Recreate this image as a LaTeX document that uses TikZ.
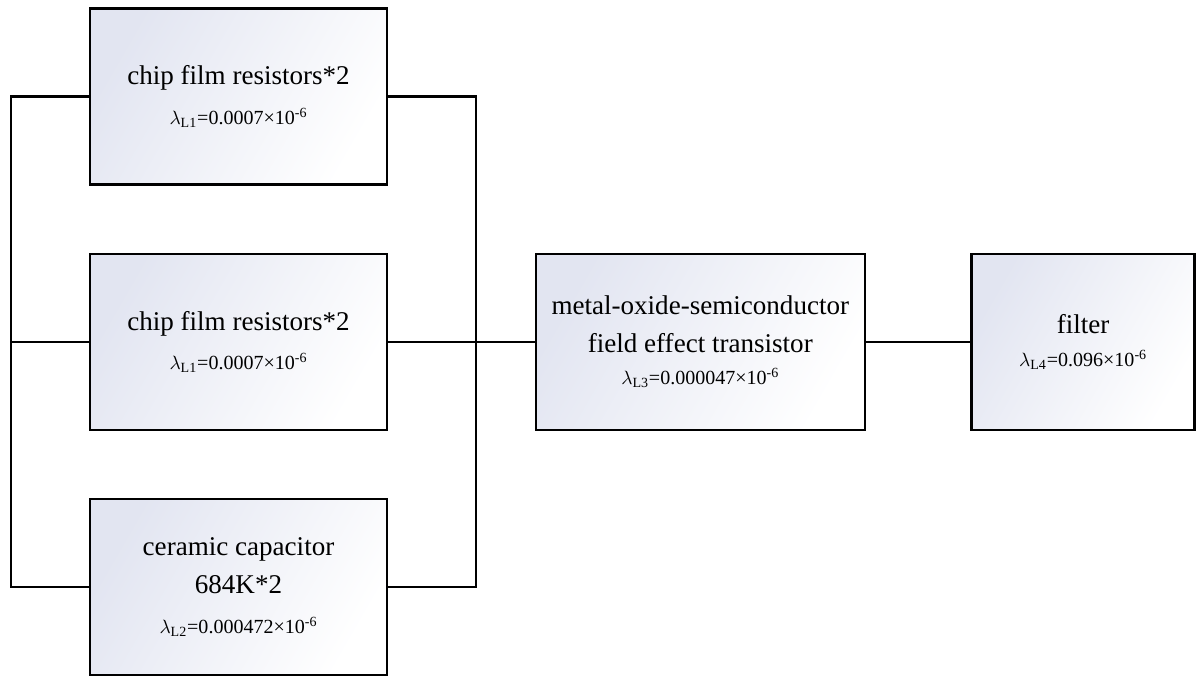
\documentclass[tikz,border=0pt]{standalone}
\usepackage{fontspec}
\setmainfont{Liberation Serif}
\usepackage{tikz}
\usetikzlibrary{calc, positioning}
\definecolor{boxtint}{RGB}{226,229,241}
\tikzset{
  block/.style={
    rectangle, draw=black, line width=1.3pt,
    minimum width=5.94cm, minimum height=3.52cm,
    text centered, align=center,
    left color=boxtint, right color=white, shading angle=60,
    font=\fontsize{15.4}{21.5}\selectfont
  },
  wire/.style={
    line width=1.3pt, color=black
  }
}
\newcommand{\lamrate}[2]{{\fontsize{11.4}{14}\selectfont$\lambda$\textsubscript{#1}=#2×10\textsuperscript{-6}}}

\begin{document}
\begin{tikzpicture}[
  node distance=1.34cm
]
\useasboundingbox (0,0) rectangle (23.94,-13.52);
\node[block] (res1) at (4.77,-1.93) {chip film resistors*2\\[1pt] \lamrate{L1}{0.0007}};
\node[block, below=of res1] (res2) {chip film resistors*2\\[1pt] \lamrate{L1}{0.0007}};
\node[block, below=of res2] (cap) {ceramic capacitor\\ 684K*2\\[1pt] \lamrate{L2}{0.000472}};
\node[block, minimum width=6.58cm, right=2.93cm of res2] (mos) {metal-oxide-semiconductor\\ field effect transistor\\[-3pt] \lamrate{L3}{0.000047}};
\node[block, minimum width=4.46cm, right=2.09cm of mos] (filt) {filter\\[-3pt] \lamrate{L4}{0.096}};
% parallel branch buses
\coordinate (lbus) at ($(res1.west)+(-1.56,0)$);
\coordinate (rbus) at ($(res1.east)+(1.76,0)$);
\draw[wire] (res1.west) -- (lbus) |- (cap.west);
\draw[wire] (res2.west) -- (res2.west -| lbus);
\draw[wire] (res1.east) -- (rbus) |- (cap.east);
\draw[wire] (res2.east) -- (mos.west);
\draw[wire] (mos) -- (filt);
\end{tikzpicture}
\end{document}
